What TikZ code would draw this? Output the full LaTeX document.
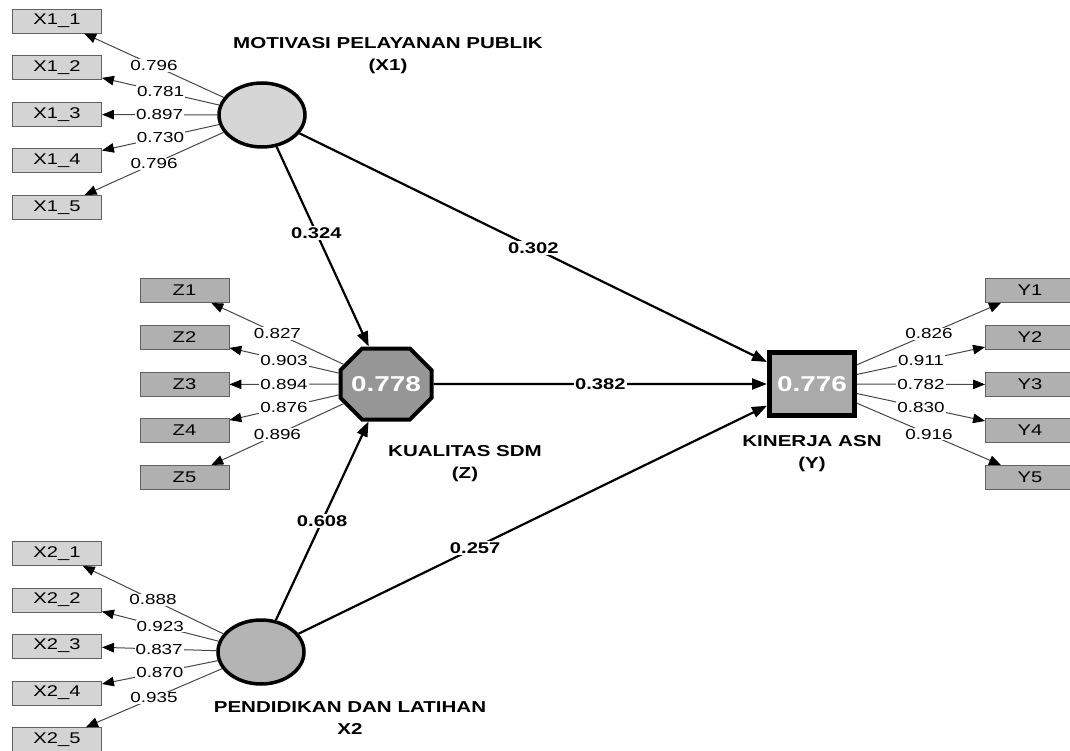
\documentclass[tikz,border=0pt]{standalone}
\usepackage{fontspec}
\setmainfont{Liberation Sans}
\newfontfamily\wsans[FakeStretch=1.3]{Liberation Sans}
\usetikzlibrary{arrows.meta,shapes.geometric,shapes.misc}
\definecolor{lightbox}{RGB}{212,212,212}
\definecolor{darkbox}{RGB}{176,176,176}
\definecolor{lvlight}{RGB}{214,214,214}
\definecolor{lvmid}{RGB}{180,180,180}
\definecolor{lvoct}{RGB}{150,150,150}
\definecolor{lvsq}{RGB}{170,170,170}
\begin{document}
\begin{tikzpicture}[x=1pt,y=-1pt,
  ind/.style={draw=black!62, line width=0.9pt, minimum width=89pt, minimum height=24pt, inner sep=0pt, font=\wsans\fontsize{15.5}{15.5}\selectfont},
  indA/.style={ind, fill=lightbox},
  indB/.style={ind, fill=darkbox},
  load/.style={draw=black!72, line width=1pt, -{Triangle[length=12pt,width=9.5pt,color=black]}},
  lab/.style={fill=white, inner sep=1pt, font=\wsans\fontsize{14.5}{14.5}\selectfont},
  pth/.style={draw=black, line width=2.2pt, -{Triangle[length=15pt,width=11pt]}},
  plab/.style={fill=white, inner sep=1.5pt, font=\wsans\bfseries\fontsize{15.5}{15.5}\selectfont},
  ttl/.style={align=center, inner sep=0pt, font=\wsans\bfseries\fontsize{15.8}{22}\selectfont},
  lvell/.style={ellipse, draw=black, line width=3.5pt, minimum width=86pt, minimum height=64pt, inner sep=0pt},
  lvval/.style={text=white, font=\wsans\bfseries\fontsize{21.5}{21.5}\selectfont}
]
\useasboundingbox (0,0) rectangle (1070,751);

% latent variables
\node[lvell, fill=lvlight] (X1) at (262,115) {};
\node[lvell, fill=lvmid] (X2) at (261,652) {};
\node[chamfered rectangle, chamfered rectangle angle=45, chamfered rectangle xsep=14pt, chamfered rectangle ysep=14pt,
      draw=black, line width=4pt, fill=lvoct, minimum width=91pt, minimum height=71pt, inner sep=0pt, lvval] (Z) at (386,384) {0.778};
\node[rectangle, draw=black, line width=5pt, fill=lvsq, minimum width=85pt, minimum height=63pt, inner sep=0pt, lvval] (Y) at (812,384) {0.776};

% titles
\node[ttl] (tX1) at (388,56) {MOTIVASI PELAYANAN PUBLIK\\(X1)};
\node[ttl] (tZ) at (465,464) {KUALITAS SDM\\(Z)};
\node[ttl] (tY) at (812,454) {KINERJA ASN\\(Y)};
\node[ttl] (tX2) at (350,718) {PENDIDIKAN DAN LATIHAN\\X2};

% indicators X1
\node[indA] (X11) at (57,21) {X1\_1};
\node[indA] (X12) at (57,67.5) {X1\_2};
\node[indA] (X13) at (57,114.5) {X1\_3};
\node[indA] (X14) at (57,160.5) {X1\_4};
\node[indA] (X15) at (57,207.5) {X1\_5};
% indicators Z
\node[indB] (Z1) at (184.5,290.5) {Z1};
\node[indB] (Z2) at (184.5,337.5) {Z2};
\node[indB] (Z3) at (184.5,384.5) {Z3};
\node[indB] (Z4) at (184.5,430.5) {Z4};
\node[indB] (Z5) at (184.5,477.5) {Z5};
% indicators Y
\node[indB] (Y1) at (1030,290.5) {Y1};
\node[indB] (Y2) at (1030,337.5) {Y2};
\node[indB] (Y3) at (1030,384.5) {Y3};
\node[indB] (Y4) at (1030,430.5) {Y4};
\node[indB] (Y5) at (1030,477.5) {Y5};
% indicators X2
\node[indA] (X21) at (57,553.5) {X2\_1};
\node[indA] (X22) at (57,600) {X2\_2};
\node[indA] (X23) at (57,646) {X2\_3};
\node[indA] (X24) at (57,693) {X2\_4};
\node[indA] (X25) at (57,739.5) {X2\_5};

% loadings
\draw[load] (X1) -- (X11) node[lab, pos=0.5] {0.796};
\draw[load] (X1) -- (X12) node[lab, pos=0.5] {0.781};
\draw[load] (X1) -- (X13) node[lab, pos=0.5] {0.897};
\draw[load] (X1) -- (X14) node[lab, pos=0.5] {0.730};
\draw[load] (X1) -- (X15) node[lab, pos=0.5] {0.796};

\draw[load] (Z) -- (Z1) node[lab, pos=0.5] {0.827};
\draw[load] (Z) -- (Z2) node[lab, pos=0.5] {0.903};
\draw[load] (Z) -- (Z3) node[lab, pos=0.5] {0.894};
\draw[load] (Z) -- (Z4) node[lab, pos=0.5] {0.876};
\draw[load] (Z) -- (Z5) node[lab, pos=0.5] {0.896};

\draw[load] (Y) -- (Y1) node[lab, pos=0.5] {0.826};
\draw[load] (Y) -- (Y2) node[lab, pos=0.5] {0.911};
\draw[load] (Y) -- (Y3) node[lab, pos=0.5] {0.782};
\draw[load] (Y) -- (Y4) node[lab, pos=0.5] {0.830};
\draw[load] (Y) -- (Y5) node[lab, pos=0.5] {0.916};

\draw[load] (X2) -- (X21) node[lab, pos=0.5] {0.888};
\draw[load] (X2) -- (X22) node[lab, pos=0.5] {0.923};
\draw[load] (X2) -- (X23) node[lab, pos=0.5] {0.837};
\draw[load] (X2) -- (X24) node[lab, pos=0.5] {0.870};
\draw[load] (X2) -- (X25) node[lab, pos=0.5] {0.935};

% structural paths
\draw[pth] (X1) -- (Z) node[plab, pos=0.43] {0.324};
\draw[pth] (X1) -- (Y) node[plab, pos=0.5] {0.302};
\draw[pth] (Z) -- (Y) node[plab, pos=0.5] {0.382};
\draw[pth] (X2) -- (Z) node[plab, pos=0.5] {0.608};
\draw[pth] (X2) -- (Y) node[plab, pos=0.377] {0.257};
\end{tikzpicture}
\end{document}
